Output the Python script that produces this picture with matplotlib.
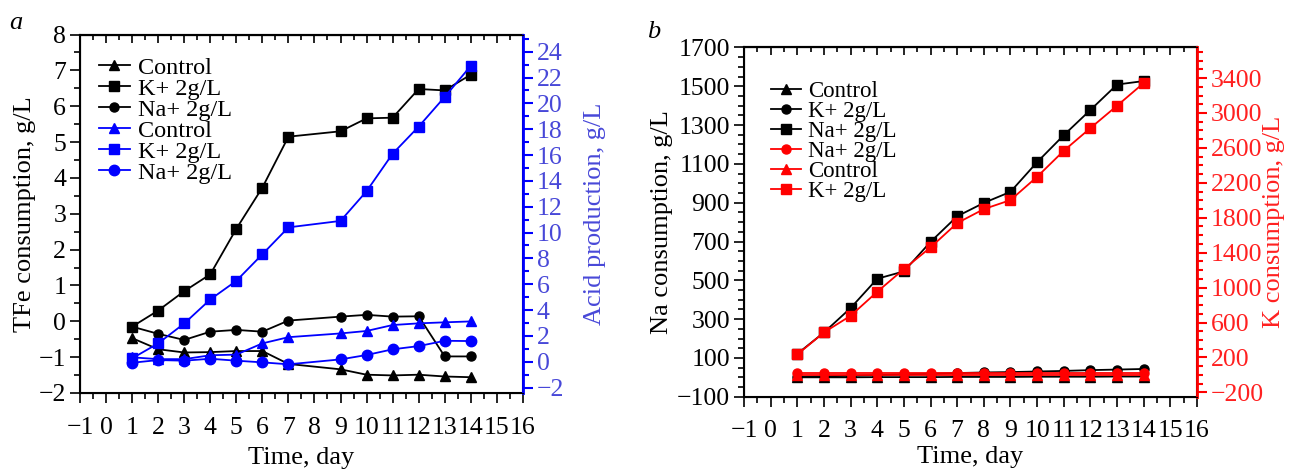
import numpy as np
import matplotlib
matplotlib.use("Agg")
import matplotlib.pyplot as plt
from matplotlib.ticker import MultipleLocator

plt.rcParams['font.family'] = ['Liberation Serif', 'DejaVu Serif']

# panel a data
days_a = [1, 2, 3, 4, 5, 6, 7, 9, 10, 11, 12, 13, 14]
tfe_control = [-0.47, -0.78, -0.87, -0.86, -0.83, -0.83, -1.19, -1.34, -1.49, -1.51, -1.49, -1.54, -1.56]
tfe_k = [-0.15, 0.30, 0.84, 1.31, 2.58, 3.73, 5.15, 5.30, 5.66, 5.68, 6.48, 6.44, 6.88]
tfe_na = [-0.15, -0.35, -0.52, -0.29, -0.24, -0.29, 0.02, 0.13, 0.18, 0.13, 0.14, -0.98, -0.98]
acid_control = [0.34, 0.20, 0.20, 0.50, 0.55, 1.42, 1.90, 2.19, 2.38, 2.84, 2.97, 3.05, 3.12]
acid_k = [0.26, 1.42, 2.96, 4.82, 6.26, 8.32, 10.4, 10.9, 13.2, 16.1, 18.2, 20.5, 22.9]
acid_na = [-0.08, 0.13, 0.08, 0.23, 0.08, -0.05, -0.20, 0.18, 0.52, 0.96, 1.21, 1.62, 1.60]

# panel b data
days_b = list(range(1, 15))
na_control = [0, 0, 0, 1, 1, 1, 2, 2, 2, 3, 3, 3, 4, 4]
na_k = [2, 5, 8, 12, 15, 18, 22, 25, 27, 30, 33, 37, 40, 43]
na_na = [121, 231, 357, 508, 546, 698, 830, 899, 956, 1109, 1248, 1378, 1509, 1527]
k_na = [20, 20, 20, 20, 20, 20, 20, 20, 20, 20, 20, 20, 20, 20]
k_control = [0, 0, 0, 0, 0, 0, 0, 0, 0, 0, 0, 0, 0, 0]
k_k = [234, 486, 677, 952, 1212, 1460, 1739, 1899, 2002, 2269, 2567, 2827, 3083, 3343]

xticks = list(range(-1, 17))
na_ticks = list(range(-100, 1701, 200))
k_ticks = list(range(-200, 3401, 400))

FS = 18.5      # tick labels
LFS = 19       # axis labels
BLUE = '#0000ff'
BLUE_TXT = '#4848d8'
RED = '#ff0000'
RED_TXT = '#ff2020'

fig = plt.figure(figsize=(12.91, 4.72), dpi=100)


def style_x(ax):
    ax.set_xlim(-1, 16)
    ax.set_xticks(xticks)
    ax.xaxis.set_minor_locator(MultipleLocator(0.5))
    ax.tick_params(axis='x', which='major', direction='out', length=7, width=1.2,
                   labelsize=FS, pad=10, top=False)
    ax.tick_params(axis='x', which='minor', direction='out', length=4, width=1.2, top=False)
    for s in ax.spines.values():
        s.set_linewidth(1.5)
    # top spine gets inward ticks
    sec = ax.secondary_xaxis('top')
    sec.set_xticks(xticks)
    sec.xaxis.set_minor_locator(MultipleLocator(0.5))
    sec.tick_params(which='major', direction='in', length=6, width=1.2, labeltop=False)
    sec.tick_params(which='minor', direction='in', length=3.5, width=1.2)
    sec.spines['top'].set_linewidth(1.5)


mk = dict(linewidth=1.3, markersize=6.5)

# ---------------- panel a ----------------
ax1 = fig.add_axes([0.062, 0.1674, 0.343, 0.7595])
style_x(ax1)
ax1.set_ylim(-2, 8)
ax1.yaxis.set_major_locator(MultipleLocator(1))
ax1.yaxis.set_minor_locator(MultipleLocator(0.5))
ax1.tick_params(axis='y', which='major', direction='out', length=7, width=1.2, labelsize=FS, pad=3)
ax1.tick_params(axis='y', which='minor', direction='out', length=4, width=1.2)
ax1.set_ylabel('TFe consumption, g/L', fontsize=LFS, labelpad=2)
ax1.set_xlabel('Time, day', fontsize=LFS, labelpad=6)

l1, = ax1.plot(days_a, tfe_control, '-^', color='black', label='Control', **mk)
l2, = ax1.plot(days_a, tfe_k, '-s', color='black', label='K+ 2g/L', **mk)
l3, = ax1.plot(days_a, tfe_na, '-o', color='black', label='Na+ 2g/L', **mk)

ax2 = ax1.twinx()
ax2.set_ylim(-2.42, 25.33)
ax2.yaxis.set_major_locator(MultipleLocator(2))
ax2.yaxis.set_minor_locator(MultipleLocator(1))
ax2.tick_params(axis='y', which='major', direction='out', length=7, width=1.5,
                colors=BLUE, labelcolor=BLUE_TXT, labelsize=FS, pad=3)
ax2.tick_params(axis='y', which='minor', direction='out', length=4, width=1.5, colors=BLUE)
ax2.spines['right'].set_color(BLUE)
ax2.spines['right'].set_linewidth(2)
ax2.set_ylabel('Acid production, g/L', fontsize=LFS, color=BLUE_TXT, labelpad=14)

l4, = ax2.plot(days_a, acid_control, '-^', color=BLUE, label='Control', **mk)
l5, = ax2.plot(days_a, acid_k, '-s', color=BLUE, label='K+ 2g/L', **mk)
l6, = ax2.plot(days_a, acid_na, '-o', color=BLUE, label='Na+ 2g/L', linewidth=1.3, markersize=7.5)

ax2.legend(handles=[l1, l2, l3, l4, l5, l6], loc='upper left', bbox_to_anchor=(0.02, 0.965),
           frameon=False, fontsize=17.5, handlelength=1.3, handletextpad=0.3,
           labelspacing=-0.04, borderaxespad=0)

fig.text(0.0125, 0.952, 'a', fontsize=LFS, style='italic', ha='center', va='center')

# ---------------- panel b ----------------
bx1 = fig.add_axes([0.5763, 0.1595, 0.3509, 0.7399])
style_x(bx1)
bx1.set_ylim(-100, 1700)
bx1.set_yticks(na_ticks)
bx1.yaxis.set_minor_locator(MultipleLocator(50))
bx1.tick_params(axis='y', which='major', direction='out', length=7, width=1.2, labelsize=FS, pad=3)
bx1.tick_params(axis='y', which='minor', direction='out', length=4, width=1.2)
bx1.set_ylabel('Na consumption, g/L', fontsize=LFS, labelpad=3)
bx1.set_xlabel('Time, day', fontsize=LFS, labelpad=3)

m1, = bx1.plot(days_b, na_control, '-^', color='black', label='Control', **mk)
m2, = bx1.plot(days_b, na_k, '-o', color='black', label='K+ 2g/L', **mk)
m3, = bx1.plot(days_b, na_na, '-s', color='black', label='Na+ 2g/L', **mk)

bx2 = bx1.twinx()
bx2.set_ylim(-250, 3750)
bx2.set_yticks(k_ticks)
bx2.yaxis.set_minor_locator(MultipleLocator(100))
bx2.tick_params(axis='y', which='major', direction='out', length=7, width=1.5,
                colors=RED, labelcolor=RED_TXT, labelsize=FS, pad=3)
bx2.tick_params(axis='y', which='minor', direction='out', length=4, width=1.5, colors=RED)
bx2.spines['right'].set_color(RED)
bx2.spines['right'].set_linewidth(2)
bx2.set_ylabel('K consumption, g/L', fontsize=LFS, color=RED_TXT, labelpad=-1)

m4, = bx2.plot(days_b, k_na, '-o', color=RED, label='Na+ 2g/L', **mk)
m5, = bx2.plot(days_b, k_control, '-^', color=RED, label='Control', **mk)
m6, = bx2.plot(days_b, k_k, '-s', color=RED, label='K+ 2g/L', **mk)

bx2.legend(handles=[m1, m2, m3, m4, m5, m6], loc='upper left', bbox_to_anchor=(0.04, 0.93),
           frameon=False, fontsize=16.5, handlelength=1.3, handletextpad=0.3,
           labelspacing=-0.05, borderaxespad=0)

fig.text(0.506, 0.932, 'b', fontsize=LFS, style='italic', ha='center', va='center')

fig.savefig('out.png', dpi=100)
